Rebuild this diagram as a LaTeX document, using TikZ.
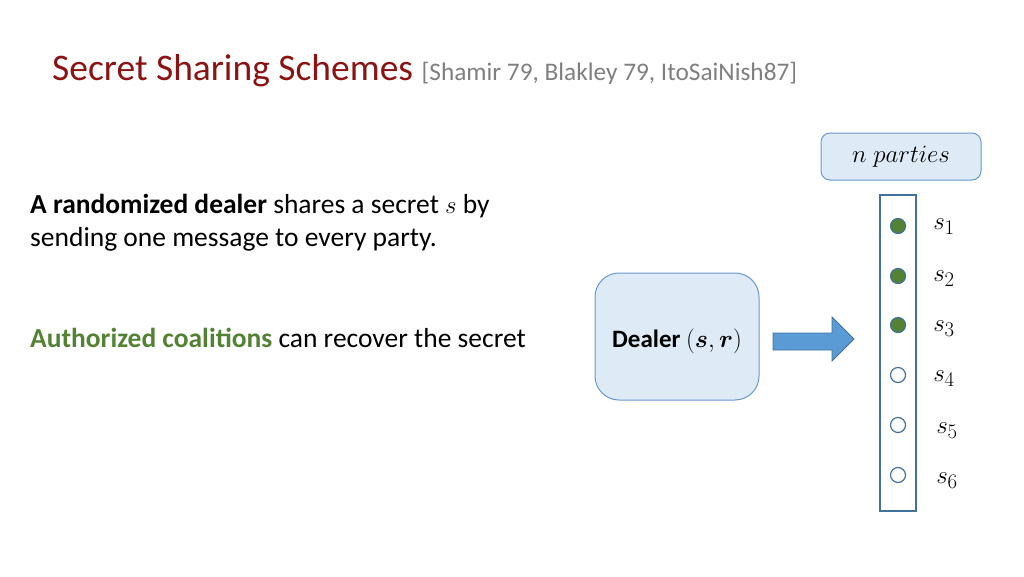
\documentclass[tikz,border=0pt]{standalone}
\usepackage{fontspec}
\setmainfont{Carlito}
\usepackage{bm}
\definecolor{titlered}{HTML}{8A1414}
\definecolor{citegray}{HTML}{7F7F7F}
\definecolor{agreen}{HTML}{548235}
\definecolor{boxfill}{HTML}{DEEBF7}
\definecolor{boxline}{HTML}{6A97CE}
\definecolor{arrowfill}{HTML}{5B9BD5}
\definecolor{arrowline}{HTML}{41719C}
\tikzset{
  body/.style={anchor=base west, inner sep=0pt, font=\fontsize{27.5}{30}\selectfont},
  rbox/.style={draw=boxline, fill=boxfill, line width=1pt, inner sep=0pt},
  party/.style={circle, draw=arrowline, line width=1.2pt, minimum size=15pt, inner sep=0pt},
  on/.style={party, fill=agreen},
  off/.style={party, fill=white},
  slabel/.style={anchor=center, inner sep=0pt, font=\fontsize{31}{34}\selectfont},
}
\begin{document}
\begin{tikzpicture}[x=1pt,y=-1pt]
\useasboundingbox (0,0) rectangle (1024,576);
\node[anchor=base west, inner sep=0pt] (title) at (52,80)
  {\fontsize{37.5}{40}\selectfont\color{titlered}Secret Sharing Schemes\ \fontsize{25.3}{30}\selectfont\color{citegray}[Shamir 79, Blakley 79, ItoSaiNish87]};
\node[body] (l1) at (30,213) {\textbf{A randomized dealer} shares a secret $s$ by};
\node[body] (l2) at (30,246) {sending one message to every party.};
\node[body] (l3) at (30,347) {\textcolor{agreen}{\textbf{Authorized coalitions}} can recover the secret};
% n parties box
\node[rbox, rounded corners=9pt, minimum width=160pt, minimum height=47pt] (np) at (901,156.5)
  {\fontsize{30}{32}\selectfont$n\;parties$};
% dealer
\node[rbox, rounded corners=24pt, minimum width=164pt, minimum height=127pt] (dealer) at (677,336.5) {};
\node[anchor=base, inner sep=0pt, font=\fontsize{25}{30}\selectfont] (dlabel) at (677,347)
  {\textbf{Dealer} $(\bm{s},\bm{r})$};
% column
\node[draw=arrowline, fill=white, line width=1.2pt, minimum width=36pt, minimum height=316pt, inner sep=0pt] (col) at (898,353) {};
% arrow
\fill[arrowfill, draw=arrowline, line width=0.8pt]
  (773,333) -- (832,333) -- (832,317) -- (854,339) -- (832,361) -- (832,350) -- (773,350) -- cycle;
% parties
\node[on]  (p1) at (898,226) {};
\node[on]  (p2) at (898,276) {};
\node[on]  (p3) at (898,325) {};
\node[off] (p4) at (898,375) {};
\node[off] (p5) at (898,425) {};
\node[off] (p6) at (898,475) {};
\node[slabel] (s1) at (944,227) {$s_1$};
\node[slabel] (s2) at (944,279) {$s_2$};
\node[slabel] (s3) at (944,329) {$s_3$};
\node[slabel] (s4) at (944,379) {$s_4$};
\node[slabel] (s5) at (947,431) {$s_5$};
\node[slabel] (s6) at (947,481) {$s_6$};
\end{tikzpicture}
\end{document}
